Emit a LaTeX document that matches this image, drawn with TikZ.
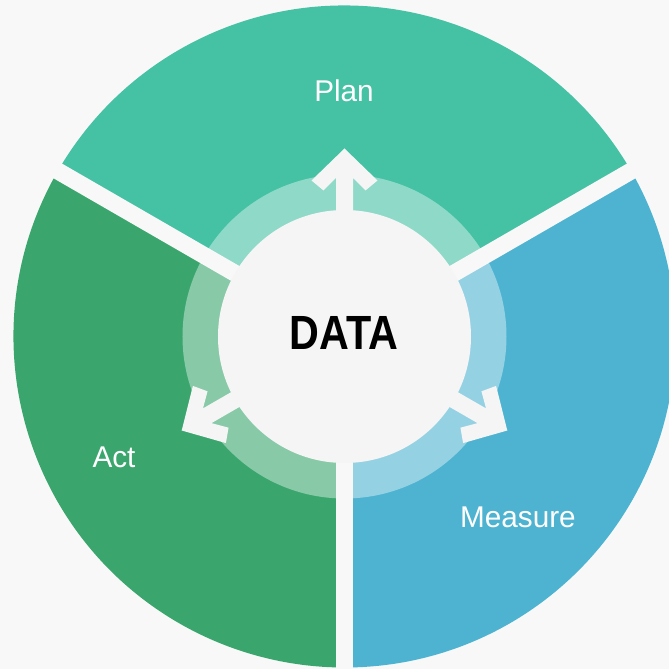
\documentclass[tikz,border=0pt]{standalone}
\usepackage{fontspec}
\setmainfont{Liberation Sans}
\newfontfamily\labelfont[FakeStretch=0.99]{Liberation Sans}
\newfontfamily\datafont[FakeStretch=0.86]{Liberation Sans}
\definecolor{bgc}{HTML}{F8F8F8}
\definecolor{innerc}{HTML}{F5F5F5}
\definecolor{planc}{HTML}{45C1A4}
\definecolor{actc}{HTML}{3AA66D}
\definecolor{measc}{HTML}{4DB3D1}
\tikzset{
  gapline/.style={draw=bgc, line width=17pt},
  ringfill/.style={fill=white, fill opacity=0.4},
  arrowfill/.style={fill=innerc},
  lbl/.style={text=white, font=\labelfont\fontsize{30}{34}\selectfont, inner sep=0pt},
}
\begin{document}
\begin{tikzpicture}[x=1pt,y=1pt]
\fill[bgc] (-344.5,-332.5) rectangle (324.5,336.5);
\useasboundingbox (-344.5,-332.5) rectangle (324.5,336.5);
\begin{scope}
\clip (-344.5,-332.5) rectangle (324.5,336.5);
\fill[planc] (0,0) -- (30:331) arc[start angle=30, end angle=150, radius=331] -- cycle;
\fill[actc] (0,0) -- (150:331) arc[start angle=150, end angle=270, radius=331] -- cycle;
\fill[measc] (0,0) -- (270:331) arc[start angle=270, end angle=390, radius=331] -- cycle;
\fill[ringfill] (0,0) circle[radius=162];
\draw[gapline] (0,0) -- (30:350);
\draw[gapline] (0,0) -- (150:350);
\draw[gapline] (0,0) -- (270:350);
\end{scope}
\fill[innerc] (0,0) circle[radius=126.5];
\foreach \a in {90,210,330}{
  \fill[arrowfill, rotate=\a] (188,0) -- (156,33) -- (146,21) -- (158.5,8.5) -- (100,8.5)
    -- (100,-8.5) -- (158.5,-8.5) -- (146,-21) -- (156,-33) -- cycle;
}
\node[lbl] (plan) at (-0.5,245.5) {Plan};
\node[lbl] (act) at (-230.5,-120.5) {Act};
\node[lbl] (measure) at (173.5,-180.5) {Measure};
\node[inner sep=0pt, font=\datafont\bfseries\fontsize{48}{52}\selectfont] (data) at (-0.5,3.5) {DATA};
\end{tikzpicture}
\end{document}
